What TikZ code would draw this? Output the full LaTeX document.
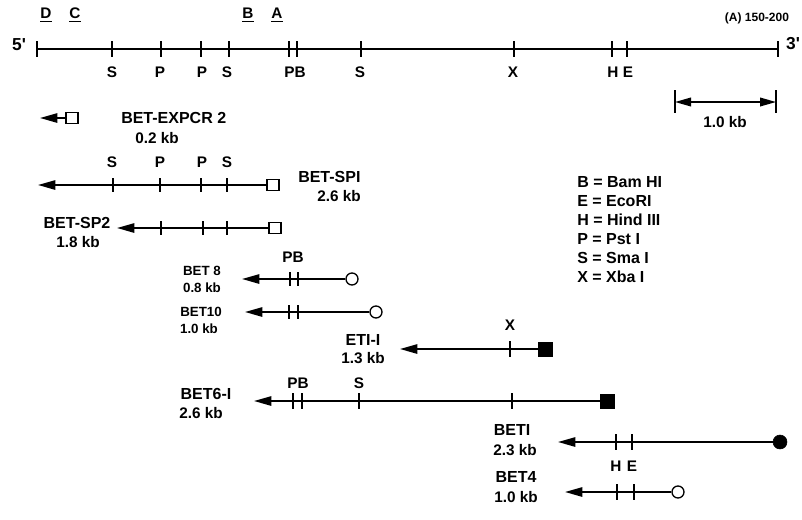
\documentclass[tikz,border=0pt]{standalone}
\usepackage{fontspec}
\setmainfont{Liberation Sans}
\usetikzlibrary{arrows.meta}
\tikzset{
  lab/.style={font=\bfseries\fontsize{12}{13}\selectfont, inner sep=0pt},
  site/.style={font=\bfseries\fontsize{11.5}{12}\selectfont, inner sep=0pt},
  kb/.style={font=\bfseries\fontsize{11.5}{12}\selectfont, inner sep=0pt},
  smalllab/.style={font=\bfseries\fontsize{10}{11}\selectfont, inner sep=0pt},
  titlelab/.style={font=\bfseries\fontsize{9}{10}\selectfont, inner sep=0pt},
  leg/.style={font=\bfseries\fontsize{12}{13}\selectfont, inner sep=0pt, anchor=west},
  dna/.style={line width=1.3pt},
  frag/.style={line width=1.3pt, -{Triangle[length=13pt,width=7pt]}},
  tick/.style={line width=1.1pt},
  openbox/.style={draw, line width=1pt, fill=white, minimum width=9pt, minimum height=8.5pt, inner sep=0pt},
  fullbox/.style={draw, fill=black, minimum width=10.5pt, minimum height=10.5pt, inner sep=0pt},
  opencirc/.style={draw, circle, line width=1pt, fill=white, minimum size=9pt, inner sep=0pt},
  fullcirc/.style={draw, circle, fill=black, minimum size=10.5pt, inner sep=0pt},
}
\newcommand\tk[3]{\draw[tick] (#1,#2-#3) -- (#1,#2+#3);}
\begin{document}
\begin{tikzpicture}[x=0.75pt,y=-0.75pt]
\useasboundingbox (0,0) rectangle (802,519);

% top probe labels
\node[site] (pd) at (46,15) {\underline{D}};
\node[site] (pc) at (75,15) {\underline{C}};
\node[site] (pb) at (248,15) {\underline{B}};
\node[site] (pa) at (277,15) {\underline{A}};
\node[titlelab] (title) at (757,18) {(A) 150-200};

% main map
\node[kb, font=\bfseries\fontsize{13}{14}\selectfont] (five) at (19,45) {5\textquotesingle};
\node[kb, font=\bfseries\fontsize{13}{14}\selectfont] (three) at (793,44) {3\textquotesingle};
\coordinate (mL) at (37,49);
\coordinate (mR) at (778,49);
\draw[dna] (mL) -- (mR);
\foreach \x in {37,112,161,201,229,289,297,361,514,612,627,778} {\tk{\x}{49}{8}}
\foreach \x/\t in {112/S,160/P,202/P,227/S,295/PB,360/S,513/X,613/H,628/E} {
  \node[site] at (\x,72) {\t};
}

% scale bar
\coordinate (sL) at (675,102);
\coordinate (sR) at (776,102);
\draw[tick, line width=1.2pt] (675,90) -- (675,113);
\draw[tick, line width=1.2pt] (776,90) -- (776,113);
\draw[line width=1.2pt, {Triangle[length=12pt,width=6.5pt]}-{Triangle[length=12pt,width=6.5pt]}] (sL) -- (sR);
\node[kb] (scale) at (725,122) {1.0 kb};

% legend
\node[leg] (l1) at (577,182) {B = Bam HI};
\node[leg] (l2) at (577,201) {E = EcoRI};
\node[leg] (l3) at (577,220) {H = Hind III};
\node[leg] (l4) at (577,239) {P = Pst I};
\node[leg] (l5) at (577,258) {S = Sma I};
\node[leg] (l6) at (577,277) {X = Xba I};

% BET-EXPCR 2
\node[openbox] (e2) at (72,118) {};
\coordinate (e2t) at (40,118);
\draw[frag] (e2) -- (e2t);
\node[lab, anchor=west] (e2n) at (121,118) {BET-EXPCR 2};
\node[kb] (e2s) at (157,138) {0.2 kb};

% BET-SPI
\node[openbox] (sp1) at (273,185) {};
\coordinate (sp1t) at (38,185);
\draw[frag] (sp1) -- (sp1t);
\foreach \x in {113,160,201,227} {\tk{\x}{185}{7}}
\foreach \x/\t in {112/S,160/P,202/P,227/S} {\node[site] at (\x,162) {\t};}
\node[lab, anchor=west] (sp1n) at (298,177) {BET-SPI};
\node[kb] (sp1s) at (339,196) {2.6 kb};

% BET-SP2
\node[openbox] (sp2) at (275,228) {};
\coordinate (sp2t) at (117,228);
\draw[frag] (sp2) -- (sp2t);
\foreach \x in {161,203,227} {\tk{\x}{228}{7}}
\node[lab] (sp2n) at (77,223) {BET-SP2};
\node[kb] (sp2s) at (78,242) {1.8 kb};

% BET 8
\node[opencirc] (b8) at (352,279) {};
\coordinate (b8t) at (242,279);
\draw[frag] (b8) -- (b8t);
\foreach \x in {290,298} {\tk{\x}{279}{7}}
\node[site] at (293,257) {PB};
\node[smalllab] (b8n) at (202,271) {BET 8};
\node[smalllab] (b8s) at (202,288) {0.8 kb};

% BET10
\node[opencirc] (b10) at (376,312) {};
\coordinate (b10t) at (245,312);
\draw[frag] (b10) -- (b10t);
\foreach \x in {289,298} {\tk{\x}{312}{7}}
\node[smalllab] (b10n) at (201,312) {BET10};
\node[smalllab] (b10s) at (199,329) {1.0 kb};

% ETI-I
\node[fullbox] (eti) at (545,349) {};
\coordinate (etit) at (400,349);
\draw[frag] (eti) -- (etit);
\tk{510}{349}{8}
\node[site] at (510,325) {X};
\node[lab] (etin) at (363,340) {ETI-I};
\node[kb] (etis) at (363,358) {1.3 kb};

% BET6-I
\node[fullbox] (b6) at (607,401) {};
\coordinate (b6t) at (254,401);
\draw[frag] (b6) -- (b6t);
\foreach \x in {293,302,359,512} {\tk{\x}{401}{8}}
\node[site] at (298,383) {PB};
\node[site] at (359,383) {S};
\node[lab] (b6n) at (206,394) {BET6-I};
\node[kb] (b6s) at (201,413) {2.6 kb};

% BETI
\node[fullcirc] (bi) at (780,442) {};
\coordinate (bit) at (558,442);
\draw[frag] (bi) -- (bit);
\foreach \x in {616,632} {\tk{\x}{442}{8}}
\node[site] at (616,466) {H};
\node[site] at (632,466) {E};
\node[lab] (bin) at (512,430) {BETI};
\node[kb] (bis) at (515,450) {2.3 kb};

% BET4
\node[opencirc] (b4) at (678,492) {};
\coordinate (b4t) at (565,492);
\draw[frag] (b4) -- (b4t);
\foreach \x in {617,634} {\tk{\x}{492}{8}}
\node[lab] (b4n) at (516,477) {BET4};
\node[kb] (b4s) at (516,497) {1.0 kb};
\end{tikzpicture}
\end{document}
